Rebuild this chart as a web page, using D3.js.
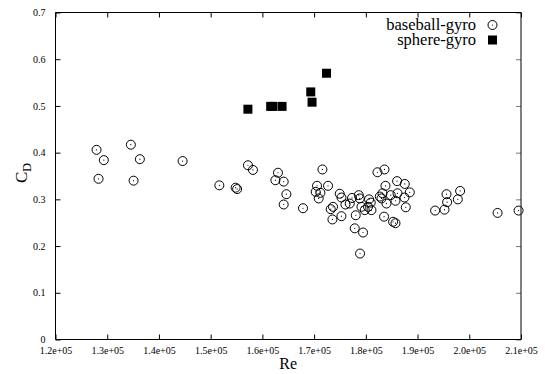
<!DOCTYPE html>
<html>
<head>
<meta charset="utf-8">
<script src="https://cdn.jsdelivr.net/npm/d3@7"></script>
<style>
  html, body { margin: 0; padding: 0; background: #fff; }
  svg { display: block; font-family: "Liberation Serif", "Times New Roman", serif; }
</style>
</head>
<body>
<svg id="chart" width="545" height="374"></svg>
<script>
// Drag coefficient versus Reynolds number, gyro-spin measurements
const baseballRe = [
  127934, 134571, 129346, 136312, 144575, 128321, 135093, 157210, 158178, 151676,
  154830, 155120, 163015, 162512, 164118, 164640, 164118, 167853, 171606, 170562,
  172690, 170310, 171219, 170891, 174954, 175283, 173658, 173213, 173541, 175283,
  176057, 176889, 177334, 178630, 178824, 178050, 177856, 179463, 178882, 179153,
  179792, 180624, 180430, 181088, 180953, 182694, 183216, 183797, 183023, 183990,
  183526, 185268, 185732, 184823, 186119, 186042, 187532, 188499, 187473, 185732,
  187725, 182249, 183603, 195600, 198232, 195717, 197787, 193395, 195213, 205469,
  209532
];
const baseballCd = [
  0.406, 0.417, 0.384, 0.386, 0.382, 0.344, 0.340, 0.373, 0.363, 0.330,
  0.325, 0.322, 0.357, 0.341, 0.338, 0.311, 0.289, 0.281, 0.364, 0.329,
  0.329, 0.316, 0.314, 0.302, 0.312, 0.304, 0.284, 0.279, 0.257, 0.264,
  0.289, 0.291, 0.303, 0.309, 0.302, 0.266, 0.238, 0.229, 0.184, 0.284,
  0.277, 0.300, 0.284, 0.277, 0.293, 0.306, 0.313, 0.329, 0.302, 0.291,
  0.263, 0.252, 0.249, 0.309, 0.313, 0.339, 0.333, 0.315, 0.304, 0.297,
  0.283, 0.358, 0.364, 0.311, 0.318, 0.294, 0.300, 0.276, 0.278, 0.271,
  0.276
];
const sphereRe = [157200, 161600, 162000, 163800, 169350, 169600, 172400];
const sphereCd = [0.493, 0.499, 0.499, 0.499, 0.530, 0.508, 0.570];

const xTicks = [120000, 130000, 140000, 150000, 160000, 170000, 180000, 190000, 200000, 210000];
const xTickLabels = ["1.2e+05", "1.3e+05", "1.4e+05", "1.5e+05", "1.6e+05", "1.7e+05", "1.8e+05", "1.9e+05", "2.0e+05", "2.1e+05"];
const yTicks = [0, 0.1, 0.2, 0.3, 0.4, 0.5, 0.6, 0.7];
const yTickLabels = ["0", "0.1", "0.2", "0.3", "0.4", "0.5", "0.6", "0.7"];
const seriesNames = ["baseball-gyro", "sphere-gyro"];

const svg = d3.select("#chart");
const plotLeft = 55.5, plotRight = 521, plotTop = 12.5, plotBottom = 339.5;

const x = d3.scaleLinear().domain([120000, 210000]).range([plotLeft, plotRight]);
const y = d3.scaleLinear().domain([0, 0.7]).range([plotBottom, plotTop]);

const tickLen = 5;

// Axes: bottom/left with labels, mirrored inward ticks on top/right
const xAxis = d3.axisBottom(x).tickValues(xTicks)
  .tickFormat((d, i) => xTickLabels[i]).tickSizeInner(-tickLen).tickSizeOuter(0).tickPadding(7);
const yAxis = d3.axisLeft(y).tickValues(yTicks)
  .tickFormat((d, i) => yTickLabels[i]).tickSizeInner(-tickLen).tickSizeOuter(0).tickPadding(10);
const xAxisTop = d3.axisTop(x).tickValues(xTicks).tickFormat("").tickSizeInner(-tickLen).tickSizeOuter(0);
const yAxisRight = d3.axisRight(y).tickValues(yTicks).tickFormat("").tickSizeInner(-tickLen).tickSizeOuter(0);

function styleAxis(g, color) {
  g.select(".domain").remove();
  g.selectAll("line").attr("stroke", color).attr("stroke-width", 1);
  g.selectAll("text").attr("fill", "#000").style("font-size", "10px")
    .style("font-family", "'Liberation Serif', serif");
}

svg.append("g").attr("transform", `translate(0,${plotBottom})`).call(xAxis).call(g => styleAxis(g, "#000"));
svg.append("g").attr("transform", `translate(${plotLeft},0)`).call(yAxis).call(g => styleAxis(g, "#000"));
svg.append("g").attr("transform", `translate(0,${plotTop})`).call(xAxisTop).call(g => styleAxis(g, "#000"));
svg.append("g").attr("transform", `translate(${plotRight},0)`).call(yAxisRight).call(g => styleAxis(g, "#777"));

// Frame
svg.append("line").attr("x1", plotLeft).attr("x2", plotRight).attr("y1", plotTop).attr("y2", plotTop).attr("stroke", "#000");
svg.append("line").attr("x1", plotLeft).attr("x2", plotRight).attr("y1", plotBottom).attr("y2", plotBottom).attr("stroke", "#000");
svg.append("line").attr("x1", plotLeft).attr("x2", plotLeft).attr("y1", plotTop).attr("y2", plotBottom).attr("stroke", "#000");
svg.append("line").attr("x1", plotRight).attr("x2", plotRight).attr("y1", plotTop).attr("y2", plotBottom).attr("stroke", "#000");

// Axis titles
svg.append("text").attr("x", (plotLeft + plotRight) / 2).attr("y", 369)
  .attr("text-anchor", "middle").style("font-size", "16px").text("Re");
const yTitle = svg.append("text")
  .attr("transform", "translate(27,173) rotate(-90)")
  .attr("text-anchor", "middle").style("font-size", "17px");
yTitle.append("tspan").text("C");
yTitle.append("tspan").attr("dy", 4).style("font-size", "12px").text("D");

// Marker drawing helpers
function circleMarker(g) {
  g.append("circle").attr("r", 4.5).attr("fill", "none").attr("stroke", "#000").attr("stroke-width", 1);
  g.append("circle").attr("r", 0.6).attr("fill", "#000");
}
function squareMarker(g) {
  g.append("rect").attr("x", -4.5).attr("y", -4.5).attr("width", 9).attr("height", 9).attr("fill", "#000");
}

const plot = svg.append("g");
const baseball = baseballRe.map((re, i) => ({ re, cd: baseballCd[i] }));
const sphere = sphereRe.map((re, i) => ({ re, cd: sphereCd[i] }));

plot.selectAll("g.bb").data(baseball).join("g").attr("class", "bb")
  .attr("transform", d => `translate(${x(d.re)},${y(d.cd)})`)
  .each(function () { circleMarker(d3.select(this)); });

plot.selectAll("g.sp").data(sphere).join("g").attr("class", "sp")
  .attr("transform", d => `translate(${x(d.re)},${y(d.cd)})`)
  .each(function () { squareMarker(d3.select(this)); });

// Legend (top right, labels right-aligned before the key symbol)
const legend = svg.append("g");
const legendRows = [
  { name: seriesNames[0], draw: circleMarker, yc: 25 },
  { name: seriesNames[1], draw: squareMarker, yc: 40 }
];
legendRows.forEach(r => {
  legend.append("text").attr("x", 476).attr("y", r.yc + 5)
    .attr("text-anchor", "end").style("font-size", "16.5px").text(r.name);
  const m = legend.append("g").attr("transform", `translate(492.5,${r.yc})`);
  r.draw(m);
});
</script>
</body>
</html>
